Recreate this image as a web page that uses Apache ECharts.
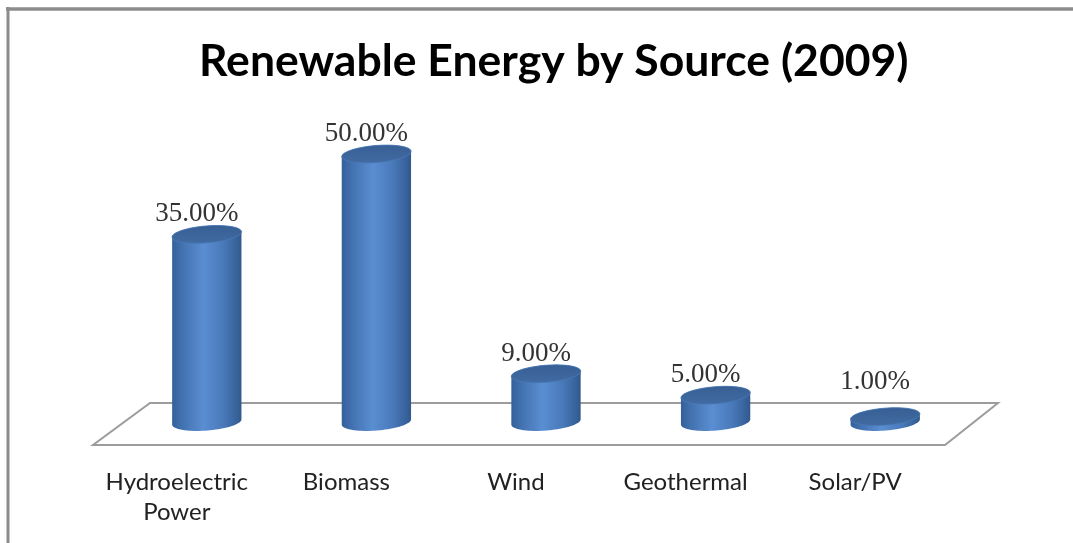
<!DOCTYPE html>
<html><head><meta charset="utf-8">
<script src="https://cdn.jsdelivr.net/npm/echarts@6/dist/echarts.min.js"></script>
<style>html,body{margin:0;padding:0;background:#fff}#c{width:1073px;height:543px}</style>
</head><body><div id="c"></div>
<script>
const categories = ['Hydroelectric Power', 'Biomass', 'Wind', 'Geothermal', 'Solar/PV'];
const values = [35, 50, 9, 5, 1];
const titleText = 'Renewable Energy by Source (2009)';

const chart = echarts.init(document.getElementById('c'), null, { renderer: 'canvas' });

function ellPts(cx, cy, rx, ry, th, t0, t1, n) {
  const pts = [];
  const c = Math.cos(th), s = Math.sin(th);
  for (let i = 0; i <= n; i++) {
    const t = t0 + (t1 - t0) * i / n;
    const x = rx * Math.cos(t), y = ry * Math.sin(t);
    pts.push([cx + x * c - y * s, cy + x * s + y * c]);
  }
  return pts;
}

function renderCylinder(params, api) {
  const idx = api.value(0);
  const v = api.value(1);
  const base = api.coord([idx, 0]);
  const top = api.coord([idx, v]);
  const band = api.size([1, 0])[0];
  const rx = band * 0.205, ry = 8.5, th = -0.08;
  const cx = base[0];
  const body = ellPts(cx, top[1], rx, ry, th, Math.PI, 2 * Math.PI, 40)
    .concat(ellPts(cx, base[1], rx, ry, th, 0, Math.PI, 40));
  const face = ellPts(cx, top[1], rx, ry, th, 0, 2 * Math.PI, 60);
  const labelY = Math.min(top[1] - 20, base[1] - 40);
  return {
    type: 'group',
    children: [
      {
        type: 'polygon', shape: { points: body },
        style: {
          fill: new echarts.graphic.LinearGradient(0, 0, 1, 0, [
            { offset: 0, color: '#33609a' },
            { offset: 0.15, color: '#4372b0' },
            { offset: 0.45, color: '#5a8ed2' },
            { offset: 0.75, color: '#4878b8' },
            { offset: 1, color: '#31598f' }
          ]),
          stroke: null
        }
      },
      {
        type: 'polygon', shape: { points: face },
        style: {
          fill: new echarts.graphic.LinearGradient(0, 0, 0, 1, [
            { offset: 0, color: '#375f94' },
            { offset: 1, color: '#416ba3' }
          ]),
          stroke: '#4a78b4', lineWidth: 0.8
        }
      },
      {
        type: 'text',
        style: {
          x: cx - 10, y: labelY,
          text: v.toFixed(2) + '%',
          align: 'center', verticalAlign: 'middle',
          font: '27px "Liberation Serif", serif',
          fill: '#333333'
        }
      }
    ]
  };
}

function renderFloor(params, api) {
  const cs = params.coordSys;
  const L = cs.x, R = cs.x + cs.width, B = cs.y + cs.height;
  return {
    type: 'polygon',
    shape: { points: [[L + 28, B - 19], [R + 28, B - 19], [R - 25, B + 23], [L - 29, B + 23]] },
    style: { fill: '#ffffff', stroke: '#9c9c9c', lineWidth: 2 }
  };
}

const option = {
  backgroundColor: '#ffffff',
  animation: false,
  title: {
    text: titleText,
    left: 194,
    top: 34,
    textStyle: { fontFamily: 'Lato', fontWeight: 'bold', fontSize: 44.5, color: '#000' }
  },
  graphic: [
    { type: 'line', shape: { x1: 6, y1: 9, x2: 1073, y2: 9 }, style: { stroke: '#8c8c8c', lineWidth: 3.5 }, silent: true },
    { type: 'line', shape: { x1: 8, y1: 7, x2: 8, y2: 543 }, style: { stroke: '#8c8c8c', lineWidth: 3 }, silent: true }
  ],
  grid: { left: 122, right: 103, top: 100.4, bottom: 121 },
  xAxis: {
    type: 'category', data: categories,
    axisLine: { show: false }, axisTick: { show: false },
    axisLabel: {
      interval: 0, margin: 45,
      formatter: (s) => s.replace(' ', '\n'),
      fontFamily: 'Lato', fontSize: 24, color: '#222222', lineHeight: 30,
      padding: [0, 60, 0, 0]
    }
  },
  yAxis: { type: 'value', min: 0, max: 60, show: false, splitLine: { show: false } },
  series: [
    { type: 'custom', name: 'floor', renderItem: renderFloor, data: [[0, 0]], z: 1, silent: true },
    {
      type: 'custom', name: 'Share', renderItem: renderCylinder, z: 2,
      encode: { x: 0, y: 1 },
      data: values.map((v, i) => [i, v])
    }
  ]
};
chart.setOption(option);
</script>
</body></html>
